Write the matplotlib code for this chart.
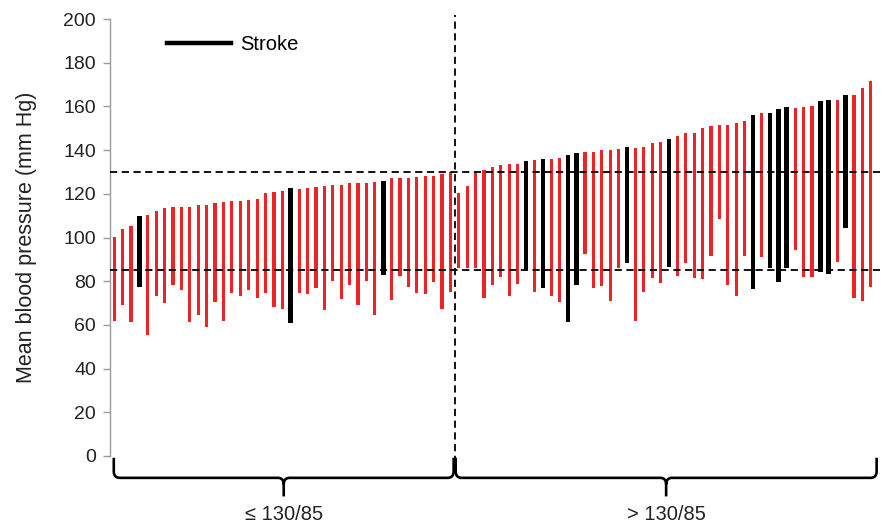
import matplotlib
matplotlib.use("Agg")
import matplotlib.pyplot as plt
from matplotlib.path import Path
from matplotlib.patches import PathPatch
from matplotlib.lines import Line2D
import numpy as np

plt.rcParams['font.family'] = ['Liberation Sans', 'DejaVu Sans']

# ---- data (mean blood pressure ranges per patient, sorted) ----
left_max = [100.1, 103.7, 105.1, 109.8, 110.3, 112.3, 113.6, 113.8, 114.1, 114.1,
            114.9, 115.1, 115.6, 116.1, 116.7, 116.7, 117.0, 117.8, 120.4, 121.0,
            121.3, 122.8, 122.3, 122.7, 123.3, 123.7, 124.0, 124.0, 124.8, 124.8,
            124.8, 125.2, 125.9, 127.2, 127.2, 127.2, 127.8, 128.3, 128.3, 128.9,
            130.0]
left_min = [61.9, 69.1, 61.3, 77.2, 55.4, 73.4, 69.9, 78.3, 75.8, 61.5,
            64.4, 59.0, 70.6, 61.7, 74.7, 73.2, 76.0, 72.2, 74.5, 68.3,
            67.1, 61.0, 74.7, 74.1, 77.0, 66.7, 80.2, 72.0, 78.1, 69.3,
            80.0, 64.4, 82.8, 71.2, 82.5, 77.3, 74.5, 74.3, 79.8, 67.4,
            74.9]
left_stroke = [4, 22, 33]  # 1-based positions within group

right_max = [120.5, 123.6, 129.4, 130.9, 132.4, 133.2, 133.5, 133.5, 135.2, 135.5,
             135.8, 135.8, 136.5, 137.9, 138.7, 139.0, 139.3, 140.0, 140.0, 140.4,
             141.4, 141.0, 141.3, 143.1, 143.6, 145.3, 146.5, 148.0, 148.0, 150.3,
             151.0, 151.5, 151.5, 152.2, 153.5, 156.1, 156.8, 157.0, 158.7, 159.6,
             159.4, 159.9, 160.3, 162.6, 163.1, 163.1, 165.0, 165.2, 168.4, 171.8]
right_min = [85.9, 86.0, 86.0, 72.2, 78.3, 81.8, 73.4, 78.7, 84.8, 74.9,
             76.7, 73.2, 70.5, 61.2, 78.4, 92.3, 76.7, 77.8, 71.1, 86.0,
             88.2, 61.8, 75.1, 81.3, 79.3, 86.3, 82.5, 88.2, 81.3, 81.0,
             91.7, 108.5, 78.3, 73.2, 91.7, 76.4, 91.2, 85.9, 79.5, 85.9,
             94.3, 81.8, 81.8, 84.4, 83.3, 88.6, 104.2, 72.5, 70.9, 77.5]
right_stroke = [9, 11, 14, 15, 21, 26, 36, 38, 39, 40, 44, 45, 47]

thresholds = [130, 85]
group_labels = ['\u2264 130/85', '> 130/85']
legend_label = 'Stroke'
ylabel = 'Mean blood pressure (mm Hg)'

# ---- assemble ----
vmax = np.array(left_max + right_max)
vmin = np.array(left_min + right_min)
n_left = len(left_max)
n = len(vmax)
x = np.arange(n)
stroke = np.zeros(n, dtype=bool)
for p in left_stroke:
    stroke[p - 1] = True
for p in right_stroke:
    stroke[n_left + p - 1] = True

RED = '#ec2327'
TXT = '#222222'

fig = plt.figure(figsize=(8.81, 5.25), dpi=100)
ax = fig.add_axes([110 / 881, 69 / 525, 770 / 881, 437 / 525])

ax.bar(x[~stroke], (vmax - vmin)[~stroke], bottom=vmin[~stroke], width=0.38,
       color=RED, linewidth=0, zorder=2)
ax.bar(x[stroke], (vmax - vmin)[stroke], bottom=vmin[stroke], width=0.55,
       color='black', linewidth=0, zorder=3)

for t in thresholds:
    ax.axhline(t, color='black', lw=1.3, ls=(0, (4, 2.5)), zorder=4)

split = n_left - 0.5
ax.plot([split, split], [-3, 202], color='black', lw=1.3, ls=(0, (4, 2.5)),
        clip_on=False, zorder=4)

ax.set_xlim(-0.5, 91.1)
ax.set_ylim(0, 200)
ax.set_yticks(np.arange(0, 201, 20))
ax.set_xticks([])
for s in ['top', 'right', 'bottom']:
    ax.spines[s].set_visible(False)
ax.spines['left'].set_color('#9a9a9a')
ax.spines['left'].set_linewidth(1.0)
ax.tick_params(axis='y', colors='#9a9a9a', length=5, width=1.0, pad=5,
               labelsize=14, labelcolor=TXT)
ax.set_ylabel(ylabel, fontsize=15.5, color=TXT, labelpad=19)

# legend
h = Line2D([], [], color='black', lw=3.2)
leg = ax.legend([h], [legend_label], loc='upper left', frameon=False,
                fontsize=14.5, handlelength=3.2, handletextpad=0.45,
                bbox_to_anchor=(0.05, 1.005))

# braces
def brace(x0, x1, y_top, y_mid, y_tip, r=0.7, ry=3.0):
    xc = (x0 + x1) / 2
    verts = [(x0, y_top), (x0, y_mid + ry), (x0, y_mid), (x0 + r, y_mid),
             (xc - r, y_mid), (xc, y_mid), (xc, y_mid - ry), (xc, y_tip)]
    codes = [Path.MOVETO, Path.LINETO, Path.CURVE3, Path.CURVE3,
             Path.LINETO, Path.CURVE3, Path.CURVE3, Path.LINETO]
    verts2 = [(xc, y_mid - ry), (xc, y_mid), (xc + r, y_mid),
              (x1 - r, y_mid), (x1, y_mid), (x1, y_mid + ry), (x1, y_top)]
    codes2 = [Path.MOVETO, Path.CURVE3, Path.CURVE3, Path.LINETO,
              Path.CURVE3, Path.CURVE3, Path.LINETO]
    p = Path(verts + verts2, codes + codes2)
    ax.add_patch(PathPatch(p, fill=False, lw=1.9, color='black',
                           clip_on=False, capstyle='butt', joinstyle='round'))
    return xc

y_top, y_mid, y_tip = -0.8, -10.0, -18.5
xc1 = brace(-0.05, split - 0.12, y_top, y_mid, y_tip)
xc2 = brace(split + 0.12, 90.7, y_top, y_mid, y_tip)
ax.text(xc1, -22.5, group_labels[0], ha='center', va='top', fontsize=14.5,
        color=TXT, clip_on=False)
ax.text(xc2, -22.5, group_labels[1], ha='center', va='top', fontsize=14.5,
        color=TXT, clip_on=False)

fig.savefig('out.png', dpi=100)
